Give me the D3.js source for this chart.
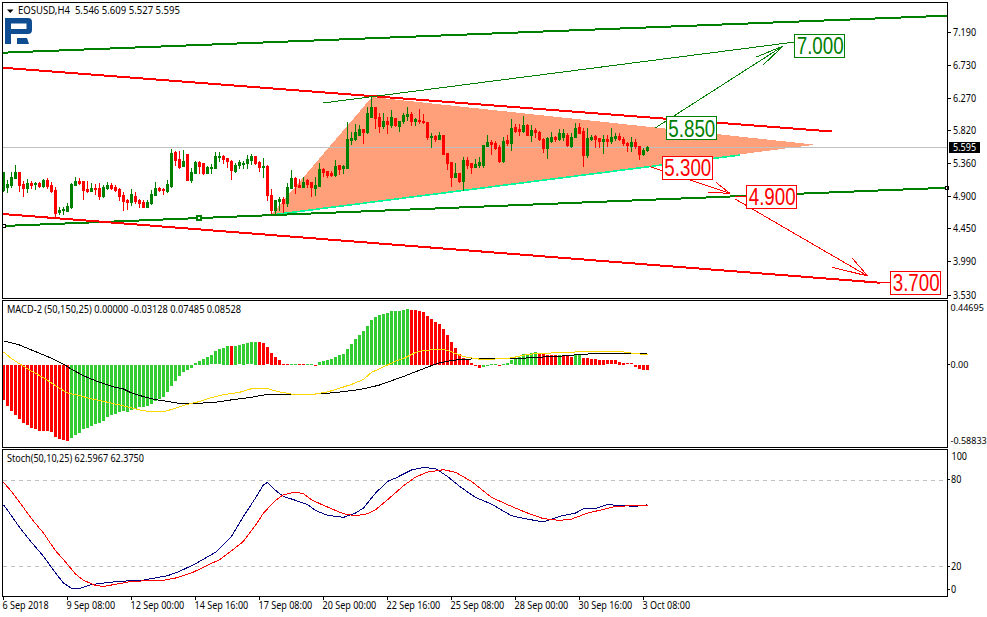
<!DOCTYPE html>
<html><head><meta charset="utf-8">
<script src="https://cdn.jsdelivr.net/npm/d3@7/dist/d3.min.js"></script>
<style>
html,body{margin:0;padding:0;background:#fff;overflow:hidden}
svg{display:block}
text{font-family:"Noto Sans",sans-serif;font-size:10.5px;fill:#000}
.aliased{shape-rendering:crispEdges}
</style></head><body><svg id="c" width="987" height="617"></svg>
<script>
const opens=[4.992,5.034,5.061,5.159,5.242,5.075,5.020,5.089,5.075,5.089,5.047,5.131,5.061,4.992,4.686,4.713,4.700,4.755,5.061,5.117,5.117,5.006,4.978,5.020,5.020,4.908,5.020,5.061,5.034,5.006,4.922,4.853,4.825,4.908,4.853,4.825,4.755,4.811,4.922,5.020,5.006,4.978,5.047,5.521,5.423,5.326,5.493,5.131,5.228,5.381,5.368,5.228,5.298,5.298,5.451,5.465,5.437,5.395,5.256,5.340,5.354,5.368,5.409,5.465,5.381,5.312,5.326,4.922,4.713,4.839,4.867,4.811,5.020,5.159,5.061,5.034,5.131,5.103,5.020,5.047,5.284,5.256,5.228,5.201,5.340,5.298,5.298,5.688,5.701,5.757,5.840,5.799,6.007,6.146,6.007,5.882,5.952,5.896,5.993,5.882,5.952,6.021,6.049,5.952,5.965,5.952,5.938,5.729,5.743,5.701,5.757,5.507,5.381,5.173,5.228,5.117,5.409,5.368,5.312,5.340,5.340,5.604,5.660,5.646,5.590,5.395,5.688,5.646,5.868,5.840,5.813,5.896,5.757,5.827,5.799,5.701,5.576,5.674,5.729,5.701,5.729,5.757,5.604,5.729,5.868,5.813,5.479,5.701,5.743,5.715,5.674,5.701,5.674,5.715,5.743,5.701,5.646,5.604,5.660,5.604,5.493,5.546];
const highs=[5.242,5.131,5.242,5.340,5.242,5.117,5.145,5.117,5.103,5.103,5.145,5.159,5.103,5.034,4.755,4.755,4.811,5.089,5.173,5.159,5.117,5.117,5.089,5.075,5.089,5.061,5.103,5.089,5.061,5.020,4.964,4.867,5.006,4.964,4.867,4.853,4.853,4.992,5.103,5.034,5.020,5.131,5.562,5.535,5.535,5.548,5.493,5.298,5.395,5.395,5.368,5.326,5.354,5.521,5.521,5.479,5.437,5.409,5.368,5.409,5.395,5.479,5.493,5.465,5.395,5.437,5.340,5.006,4.853,4.894,4.894,5.089,5.270,5.173,5.145,5.173,5.145,5.103,5.173,5.368,5.298,5.256,5.256,5.409,5.340,5.340,5.938,5.799,5.910,5.896,5.840,6.146,6.285,6.146,6.063,6.063,6.007,6.105,5.993,5.952,6.063,6.146,6.077,5.993,6.119,6.049,5.938,5.785,5.757,5.799,5.757,5.507,5.381,5.368,5.228,5.451,5.451,5.368,5.423,5.451,5.618,5.757,5.688,5.674,5.618,5.729,5.757,5.979,5.910,5.910,6.021,5.910,5.896,5.854,5.813,5.715,5.729,5.799,5.743,5.840,5.840,5.785,5.785,5.924,5.924,5.854,5.854,5.757,5.757,5.715,5.757,5.757,5.854,5.785,5.785,5.729,5.660,5.729,5.701,5.604,5.576,5.609];
const lows=[4.978,4.964,5.034,5.159,4.978,4.908,4.964,5.020,5.006,5.034,5.034,5.020,4.964,4.616,4.658,4.658,4.700,4.741,5.061,5.075,4.867,4.964,4.978,4.936,4.867,4.894,5.006,5.006,4.978,4.853,4.713,4.727,4.783,4.811,4.755,4.755,4.755,4.797,4.922,4.978,4.936,4.964,5.034,5.340,5.298,5.326,5.131,5.103,5.228,5.228,5.214,5.228,5.228,5.298,5.395,5.368,5.312,5.145,5.242,5.298,5.298,5.298,5.354,5.354,5.256,5.173,4.853,4.644,4.672,4.713,4.686,4.769,5.020,4.950,5.034,5.034,5.034,4.908,4.922,5.047,5.187,5.173,5.187,5.187,5.214,5.228,5.298,5.632,5.688,5.757,5.646,5.785,6.007,5.854,5.799,5.854,5.785,5.868,5.882,5.813,5.924,5.965,5.896,5.896,5.924,5.924,5.701,5.590,5.674,5.701,5.493,5.284,5.047,5.173,5.103,4.992,5.298,5.228,5.312,5.312,5.312,5.604,5.493,5.562,5.381,5.381,5.618,5.548,5.799,5.757,5.799,5.757,5.674,5.729,5.688,5.521,5.437,5.660,5.674,5.688,5.688,5.604,5.590,5.729,5.785,5.326,5.451,5.688,5.590,5.590,5.507,5.604,5.646,5.688,5.688,5.618,5.535,5.535,5.576,5.423,5.479,5.527];
const closes=[5.242,5.075,5.173,5.242,5.061,5.020,5.089,5.061,5.089,5.047,5.131,5.047,4.978,4.672,4.713,4.727,4.769,5.075,5.117,5.089,4.992,4.978,5.020,5.006,4.908,5.034,5.061,5.020,4.992,4.908,4.839,4.825,4.936,4.839,4.811,4.755,4.825,4.936,5.020,4.992,4.992,5.075,5.507,5.409,5.312,5.395,5.131,5.242,5.381,5.326,5.228,5.312,5.312,5.465,5.465,5.423,5.395,5.270,5.340,5.381,5.368,5.423,5.465,5.368,5.312,5.326,4.922,4.713,4.853,4.867,4.811,5.034,5.159,5.047,5.034,5.103,5.075,5.034,5.061,5.284,5.242,5.201,5.201,5.326,5.284,5.326,5.701,5.715,5.799,5.840,5.799,6.063,6.146,5.993,5.882,5.952,5.910,6.007,5.896,5.952,6.035,6.049,5.952,5.979,5.952,5.938,5.729,5.743,5.701,5.757,5.493,5.368,5.173,5.228,5.117,5.409,5.340,5.312,5.354,5.381,5.618,5.660,5.632,5.576,5.395,5.674,5.646,5.854,5.813,5.813,5.896,5.757,5.827,5.799,5.701,5.576,5.715,5.729,5.701,5.785,5.785,5.618,5.729,5.854,5.785,5.479,5.715,5.729,5.701,5.674,5.701,5.674,5.729,5.743,5.701,5.646,5.618,5.660,5.604,5.493,5.548,5.595];

const priceTicks=[7.190,6.730,6.270,5.820,5.360,4.900,4.450,3.990,3.530];
const lastPrice=5.595;
const dateTickBars=[0,16,32,48,64,80,96,112,128,144,160];
const dateLabels=["6 Sep 2018","9 Sep 08:00","12 Sep 00:00","14 Sep 16:00","17 Sep 08:00","20 Sep 00:00","22 Sep 16:00","25 Sep 08:00","28 Sep 00:00","30 Sep 16:00","3 Oct 08:00"];

const macdHist=[-0.272,-0.318,-0.354,-0.382,-0.412,-0.443,-0.463,-0.481,-0.496,-0.504,-0.507,-0.509,-0.519,-0.552,-0.568,-0.575,-0.586,-0.565,-0.542,-0.522,-0.494,-0.481,-0.466,-0.456,-0.448,-0.430,-0.402,-0.384,-0.374,-0.364,-0.356,-0.359,-0.349,-0.339,-0.326,-0.323,-0.316,-0.303,-0.280,-0.260,-0.244,-0.209,-0.160,-0.120,-0.084,-0.051,-0.036,-0.023,0.015,0.028,0.046,0.059,0.071,0.102,0.117,0.130,0.143,0.145,0.145,0.148,0.158,0.165,0.173,0.176,0.176,0.168,0.132,0.092,0.059,0.038,0.003,0.003,0.005,0.005,0.005,0.005,0.003,0.005,-0.008,0.020,0.028,0.038,0.046,0.059,0.076,0.084,0.122,0.160,0.199,0.229,0.260,0.298,0.344,0.367,0.382,0.390,0.397,0.412,0.412,0.412,0.420,0.428,0.420,0.420,0.412,0.405,0.374,0.351,0.328,0.313,0.275,0.229,0.176,0.130,0.084,0.053,0.046,0.015,-0.006,-0.023,-0.015,-0.008,0.005,0.005,-0.006,0.005,0.015,0.031,0.053,0.061,0.084,0.076,0.092,0.099,0.084,0.084,0.076,0.076,0.076,0.076,0.069,0.069,0.061,0.076,0.084,0.053,0.053,0.046,0.046,0.038,0.038,0.031,0.031,0.031,0.023,0.015,0.008,0.008,-0.015,-0.031,-0.038,-0.038];
const macdFallingRanges=[[0,16],[57,57],[64,71],[74,75],[78,78],[102,119],[124,124],[134,138],[140,142],[145,161]];
const macdBlackBars=[0,4,8,12,15,17,20,24,28,30,32,35,38,41,44,49,53,57,62,66,78,83,86,89,92,94,97,100,103,106,109,112,115,118,128,131,134,140,145,150,161];
const macdBlack=[0.181,0.150,0.099,0.048,0.003,-0.036,-0.087,-0.137,-0.176,-0.188,-0.219,-0.247,-0.270,-0.283,-0.300,-0.298,-0.290,-0.272,-0.252,-0.229,-0.227,-0.216,-0.204,-0.193,-0.173,-0.158,-0.125,-0.092,-0.056,-0.020,0.013,0.031,0.041,0.043,0.043,0.051,0.056,0.066,0.079,0.087,0.085];
const macdGoldBars=[0,2,4,7,10,13,16,19,22,26,30,34,37,40,43,46,49,52,55,59,62,66,69,72,78,81,84,87,90,92,95,98,100,103,105,110,112,115,117,120,127,130,133,140,145,155,158,161];
const macdGold=[0.097,0.046,0.005,-0.051,-0.102,-0.163,-0.219,-0.239,-0.265,-0.290,-0.318,-0.349,-0.364,-0.364,-0.336,-0.306,-0.285,-0.255,-0.232,-0.214,-0.186,-0.186,-0.211,-0.227,-0.227,-0.211,-0.183,-0.153,-0.115,-0.061,-0.018,0.025,0.046,0.092,0.109,0.117,0.097,0.061,0.051,0.036,0.051,0.071,0.084,0.092,0.099,0.097,0.084,0.075];
const macdTicks=[0.44695,0,-0.58833];

const stochBlueBars=[0,2,4,7,10,13,15,17,19,22,25,29,35,41,44,48,53,57,60,63,65,66,68,70,73,76,78,81,85,88,90,93,96,98,102,105,108,111,114,118,122,127,131,135,139,143,145,148,151,154,158,161];
const stochBlue=[62.7,55.0,47.0,36.6,26.9,15.4,8.4,4.7,4.7,7.3,8.4,9.6,10.5,13.5,16.5,21.8,29.7,40.7,54.6,67.3,76.5,78.1,72.6,68.4,65.7,62.7,58.7,55.3,53.9,56.9,60.4,70.7,78.8,81.1,86.7,88.5,87.6,82.3,75.4,67.7,63.1,55.0,52.7,50.7,54.6,56.9,59.9,60.1,62.7,62.2,61.5,62.6];
const stochRedBars=[0,2,4,7,10,13,15,18,20,23,25,29,32,36,40,43,47,51,54,57,60,63,65,68,70,73,75,77,80,82,85,88,91,93,96,100,103,106,110,113,117,122,127,131,135,139,142,146,150,153,161];
const stochRed=[78.1,71.9,64.5,53.0,43.0,30.8,24.6,14.7,10.3,6.8,6.1,8.0,9.6,10.0,10.3,11.9,15.4,20.7,24.6,30.8,37.3,48.4,56.9,65.7,69.6,71.4,70.3,66.1,62.2,59.9,56.4,55.0,56.4,59.2,66.1,75.8,81.8,85.3,86.9,85.1,78.8,67.7,61.5,56.9,53.0,51.8,52.7,56.9,59.4,61.5,62.4];
const stochTicks=[100,80,20,0];
const stochLevels=[80,20];

const trendGreenUpper=[[-0.125,6.902],[235.9,7.417]];
const trendRedUpper=[[-0.125,6.693],[207.1,5.805]];
const trendGreenLower=[[-0.125,4.490],[235.9,5.023]];
const trendRedLower=[[-0.125,4.657],[219.1,3.701]];
const channelThin=[[79.9,6.202],[197.9,7.051]];
const triangle=[[66.9,4.643],[92.1,6.285],[202.9,5.622]];
const triangleBase=[[66.9,4.643],[184.1,5.478]];
const arrowUp=[[162.9,5.854],[194.9,6.995]];
const arrowUpBarbs=[[[188.05,6.838],[194.9,6.995]],[[189.9,6.731],[194.9,6.995]]];
const arrowDownA=[[161.6,5.315],[181.6,4.945]];
const arrowDownABarbs=[[[178.1,5.098],[181.6,4.945]],[[176.2,4.959],[181.6,4.945]]];
const arrowDownB=[[182.9,4.866],[216.05,3.794]];
const arrowDownBBarbs=[[[212.2,4.041],[216.05,3.794]],[[207.2,3.916],[216.05,3.794]]];
const stubs=[[[182.9,4.900],[186,4.900]],[[219.1,3.701],[222,3.697]]];
const greenTargets=[[172,5.850,"5.850"],[204.1,7.000,"7.000"]];
const redTargets=[[171,5.300,"5.300"],[192.1,4.900,"4.900"],[228.1,3.700,"3.700"]];
const anchorPoint=[49.1,4.602];

const RED="#ff0000",GREEN="#008000",LIME="#32cd32",GRID="#c0c0c0";
const svg=d3.select("#c");
const x=d3.scaleLinear().domain([0,1]).range([3.5,7.5]);
const yMain=d3.scaleLinear().domain([7.19,3.53]).range([32,295]);
const yMacd=d3.scaleLinear().domain([0,-0.58833]).range([364.5,441]);
const yStoch=d3.scaleLinear().domain([0,100]).range([595.2,450.8]);

const panels=[{id:"pMain",t:2,b:298},{id:"pMacd",t:300,b:447},{id:"pStoch",t:449,b:596}];
const L=3,R=947;
const defs=svg.append("defs");
panels.forEach(p=>defs.append("clipPath").attr("id",p.id).append("rect").attr("x",L).attr("y",p.t+1).attr("width",R-L).attr("height",p.b-p.t-1));

const main=svg.append("g").attr("clip-path","url(#pMain)");
const lineMain=d3.line().x(d=>x(d[0])).y(d=>yMain(d[1]));
function thick(sel,pts,color,w){return sel.append("path").attr("class","aliased").attr("d",lineMain(pts)).attr("fill","none").attr("stroke",color).attr("stroke-width",w);}

main.append("path").attr("class","aliased").attr("d",lineMain(triangle)+"Z").attr("fill","#ffa07a");
thick(main,triangleBase,"#00fa9a",1.6);
main.append("line").attr("x1",L).attr("x2",R).attr("y1",Math.round(yMain(lastPrice))+0.5).attr("y2",Math.round(yMain(lastPrice))+0.5).attr("stroke",GRID);

const bars=opens.map((o,i)=>({i,o,h:highs[i],l:lows[i],c:closes[i]}));
const colorOf=d=>d.c>=d.o?GREEN:RED;
main.append("g").attr("class","aliased").selectAll("rect.w").data(bars).join("rect").attr("class","w")
 .attr("x",d=>x(d.i)-0.5).attr("width",1).attr("y",d=>Math.round(yMain(d.h))).attr("height",d=>Math.max(1,Math.round(yMain(d.l))-Math.round(yMain(d.h))+1)).attr("fill",colorOf);
main.append("g").attr("class","aliased").selectAll("rect.b").data(bars).join("rect").attr("class","b")
 .attr("x",d=>x(d.i)-1.5).attr("width",3)
 .attr("y",d=>Math.round(yMain(Math.max(d.o,d.c))))
 .attr("height",d=>Math.max(1,Math.round(yMain(Math.min(d.o,d.c)))-Math.round(yMain(Math.max(d.o,d.c)))+1)).attr("fill",colorOf);

[[trendGreenUpper,GREEN],[trendRedUpper,RED],[trendGreenLower,GREEN],[trendRedLower,RED]].forEach(a=>thick(main,a[0],a[1],2));
thick(main,channelThin,GREEN,1);
thick(main,arrowUp,GREEN,1);arrowUpBarbs.forEach(b=>thick(main,b,GREEN,1));
thick(main,arrowDownA,RED,1);arrowDownABarbs.forEach(b=>thick(main,b,RED,1));
thick(main,arrowDownB,RED,1);arrowDownBBarbs.forEach(b=>thick(main,b,RED,1));
stubs.forEach(b=>thick(main,b,RED,1));

main.append("rect").attr("class","aliased").attr("x",x(anchorPoint[0])-2.5).attr("y",Math.round(yMain(anchorPoint[1]))-2).attr("width",4).attr("height",4).attr("fill","#fff").attr("stroke",GREEN).attr("stroke-width",2);
svg.append("rect").attr("class","aliased").attr("x",2.5).attr("y",Math.round(yMain(trendGreenLower[0][1]))-1.5).attr("width",3).attr("height",3).attr("fill","#fff").attr("stroke","#000");
svg.append("rect").attr("class","aliased").attr("x",945.5).attr("y",Math.round(yMain(trendGreenLower[1][1]))-1.5).attr("width",3).attr("height",3).attr("fill","#fff").attr("stroke","#000");

function target(t,color){
 const cx=x(t[0]),cy=yMain(t[1]);
 const g=svg.append("g");
 g.append("rect").attr("class","aliased").attr("x",Math.round(cx-25.5)+0.5).attr("y",Math.round(cy-12)+0.5).attr("width",50).attr("height",23).attr("fill","#fff").attr("stroke",color);
 g.append("text").attr("x",cx+0.3).attr("y",cy+8.3).attr("text-anchor","middle").attr("textLength",47).attr("lengthAdjust","spacingAndGlyphs").style("font-family","'Liberation Sans',sans-serif").style("font-size","23px").style("fill",color).text(t[2]);
}
greenTargets.forEach(t=>target(t,GREEN));
redTargets.forEach(t=>target(t,RED));

// MACD panel
const macd=svg.append("g").attr("clip-path","url(#pMacd)");
const isFalling=i=>macdFallingRanges.some(r=>i>=r[0]&&i<=r[1]);
macd.append("g").attr("class","aliased").selectAll("rect").data(macdHist).join("rect")
 .attr("x",(d,i)=>x(i)-1.5).attr("width",3)
 .attr("y",d=>Math.round(Math.min(yMacd(d),yMacd(0))))
 .attr("height",d=>Math.max(1,Math.round(Math.abs(yMacd(d)-yMacd(0)))))
 .attr("fill",(d,i)=>isFalling(i)?RED:LIME);
function series(g,barsArr,vals,y,color){
 g.append("path").attr("class","aliased").attr("fill","none").attr("stroke",color).attr("stroke-width",1)
  .attr("d",d3.line().x((d,i)=>x(barsArr[i])).y(d=>y(d))(vals));
}
series(macd,macdBlackBars,macdBlack,yMacd,"#000");
series(macd,macdGoldBars,macdGold,yMacd,"#ffd700");

// Stochastic panel
const stoch=svg.append("g").attr("clip-path","url(#pStoch)");
stoch.selectAll("line").data(stochLevels).join("line").attr("x1",L).attr("x2",R)
 .attr("y1",d=>Math.round(yStoch(d))+0.5).attr("y2",d=>Math.round(yStoch(d))+0.5)
 .attr("stroke",GRID).attr("stroke-dasharray","4 4");
series(stoch,stochBlueBars,stochBlue,yStoch,"#000080");
series(stoch,stochRedBars,stochRed,yStoch,RED);

// Frames
panels.forEach(p=>svg.append("rect").attr("class","aliased").attr("x",2.5).attr("y",p.t+0.5).attr("width",945).attr("height",p.b-p.t).attr("fill","none").attr("stroke","#000"));

// Axes
function squeeze(sel,k){sel.each(function(){const n=this.getComputedTextLength();d3.select(this).attr("textLength",n*k).attr("lengthAdjust","spacingAndGlyphs");});}
const axMain=svg.append("g").attr("transform",`translate(${R},0)`).call(d3.axisRight(yMain).tickValues(priceTicks).tickFormat(d3.format(".3f")).tickSize(4).tickPadding(2).offset(0));
axMain.select(".domain").remove();
axMain.selectAll("line").attr("class","aliased").attr("stroke","#000");
axMain.selectAll("text").attr("dy",null).attr("y",3.5).call(squeeze,0.86);

const axMacd=svg.append("g").attr("transform",`translate(${R},0)`).call(d3.axisRight(yMacd).tickValues(macdTicks).tickFormat(d=>d===0?"0.00":d3.format(".5f")(d).replace("\u2212","-")).tickSize(3).tickPadding(1).offset(0));
axMacd.select(".domain").remove();
axMacd.selectAll(".tick").each(function(d){
 const t=d3.select(this);
 t.select("line").attr("class","aliased").attr("stroke","#000").style("display",d===0?null:"none");
 t.select("text").attr("dy",null).attr("y",3.2).attr("x",3.5).style("font-size","9px");
 if(d>0.4) t.attr("transform",`translate(0,${yMacd(0)-57})`);
});

const axStoch=svg.append("g").attr("transform",`translate(${R},0)`).call(d3.axisRight(yStoch).tickValues(stochTicks).tickSize(3).tickPadding(1).offset(0));
axStoch.select(".domain").remove();
axStoch.selectAll(".tick").each(function(d){
 const t=d3.select(this);
 t.select("line").attr("class","aliased").attr("stroke","#000");
 t.select("text").attr("dy",null).attr("y",3.5);
 if(d===100){t.attr("transform","translate(0,456.5)");t.select("line").style("display","none");t.select("text").attr("x",4.5);}
 if(d===0){t.attr("transform","translate(0,589.5)");t.select("text").attr("x",4);}
});
axStoch.selectAll("text").call(squeeze,0.86);

const axX=svg.append("g").attr("transform","translate(0,596)").call(d3.axisBottom(x).tickValues(dateTickBars).tickFormat((d,i)=>dateLabels[i]).tickSize(4).offset(0));
axX.select(".domain").remove();
axX.selectAll("line").attr("class","aliased").attr("stroke","#000");
axX.selectAll("text").attr("text-anchor","start").attr("dy",null).attr("x",-1).attr("y",13).call(squeeze,0.86);

// Current price tag
svg.append("rect").attr("class","aliased").attr("x",949).attr("y",Math.round(yMain(lastPrice))-5).attr("width",31).attr("height",11).attr("fill","#000");
svg.append("text").attr("x",953).attr("y",Math.round(yMain(lastPrice))+4).style("fill","#fff").text(d3.format(".3f")(lastPrice)).call(squeeze,0.86);

// Headers
svg.append("path").attr("d","M7,9.5H13.5L10.25,13Z").attr("fill","#000");
svg.append("text").attr("x",18).attr("y",14).attr("textLength",162).attr("lengthAdjust","spacingAndGlyphs").style("white-space","pre").text("EOSUSD,H4  5.546 5.609 5.527 5.595");
svg.append("text").attr("x",7).attr("y",313).attr("textLength",234).attr("lengthAdjust","spacingAndGlyphs").text("MACD-2 (50,150,25) 0.00000 -0.03128 0.07485 0.08528");
svg.append("text").attr("x",7).attr("y",462).attr("textLength",137).attr("lengthAdjust","spacingAndGlyphs").text("Stoch(50,10,25) 62.5967 62.3750");

// Logo
const logo=svg.append("g");
logo.append("path").attr("d","M5,18H28Q32,18 32,22V30Q32,34 28,34H11V29H26.5V23.5H11V44H5Z").attr("fill","#0e4d92");
logo.append("path").attr("d","M17,38H27L29,44H17Z").attr("fill","#0e4d92");
</script></body></html>
